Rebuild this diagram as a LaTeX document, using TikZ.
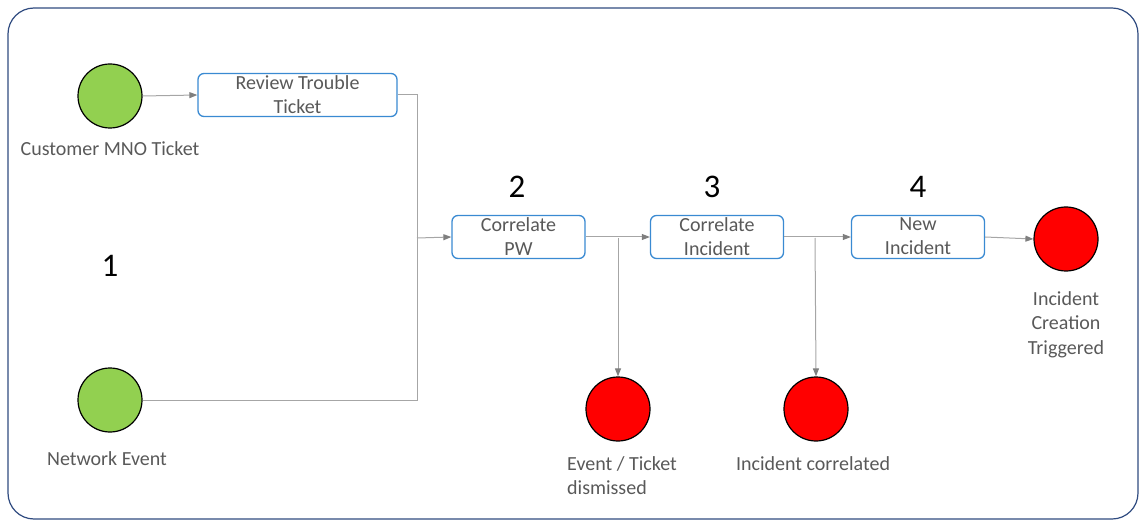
\documentclass[tikz,border=0pt]{standalone}
\usepackage{fontspec}
\setmainfont{Carlito}
\usetikzlibrary{arrows.meta}
\definecolor{frameblue}{HTML}{2F4B80}
\definecolor{boxblue}{HTML}{3A8AD2}
\definecolor{greenfill}{HTML}{92D050}
\definecolor{linegray}{HTML}{A6A6A6}
\definecolor{tipgray}{HTML}{7F7F7F}
\definecolor{txtgray}{HTML}{595959}
\tikzset{
  stepbox/.style={draw=boxblue, line width=1.3pt, rounded corners=6pt, fill=white,
    minimum width=#1, minimum height=43pt, inner sep=0pt, align=center, text depth=1pt,
    text=txtgray, font=\fontsize{20}{24}\selectfont},
  stepbox/.default=133pt,
  startnode/.style={circle, draw=black, line width=1.2pt, fill=greenfill, minimum size=64pt, inner sep=0pt},
  endnode/.style={circle, draw=black, line width=1.2pt, fill=red, minimum size=64pt, inner sep=0pt},
  lbl/.style={text=txtgray, font=\fontsize{20}{24.5}\selectfont, inner sep=0pt},
  num/.style={text=black, font=\fontsize{33}{36}\selectfont, inner sep=0pt},
  conn/.style={draw=linegray, line width=1pt},
  arr/.style={conn, -{Triangle[length=8pt,width=6pt,color=tipgray]}},
}
\begin{document}
\begin{tikzpicture}[x=1pt,y=-1pt]
\useasboundingbox (0,0) rectangle (1148,529);
\draw[frameblue, line width=1.2pt, rounded corners=26pt] (8,8) rectangle (1138,519);

% start events
\node[startnode] (cust) at (110,96) {};
\node[lbl] (custl) at (110,149) {Customer MNO Ticket};
\node[startnode] (net) at (110,400) {};
\node[lbl] (netl) at (107,459) {Network Event};

% numbers
\node[num] (n1) at (110,266) {1};
\node[num] (n2) at (517,187) {2};
\node[num] (n3) at (712,187) {3};
\node[num] (n4) at (918,187) {4};

% steps
\node[stepbox=199pt] (rev) at (297.5,95) {Review Trouble\\Ticket};
\node[stepbox] (pw) at (518.5,237) {Correlate\\PW};
\node[stepbox] (ci) at (717,237) {Correlate\\Incident};
\node[stepbox] (ni) at (918,237) {New\\Incident};

% end events
\node[endnode] (r1) at (618,409) {};
\node[lbl, align=left, anchor=north west] (r1l) at (567,456) {Event / Ticket\\dismissed};
\node[endnode] (r2) at (816,409) {};
\node[lbl] (r2l) at (813,464) {Incident correlated};
\node[endnode] (r3) at (1066,239) {};
\node[lbl, align=center, anchor=north] (r3l) at (1066,291) {Incident\\Creation\\Triggered};

% connectors
\coordinate (j1) at (417,238);
\coordinate (b1) at (618,238);
\coordinate (b2) at (815,238);
\draw[arr] (cust.east) -- (rev.west);
\draw[conn] (rev.east) -| (j1);
\draw[conn] (net.east) -| (j1);
\draw[arr] (j1) -- (pw.west);
\draw[arr] (pw.east) -- (ci.west);
\draw[arr] (b1) -- (r1.north);
\draw[arr] (ci.east) -- (ni.west);
\draw[arr] (b2) -- (r2.north);
\draw[arr] (ni.east) -- (r3.west);
\end{tikzpicture}
\end{document}
